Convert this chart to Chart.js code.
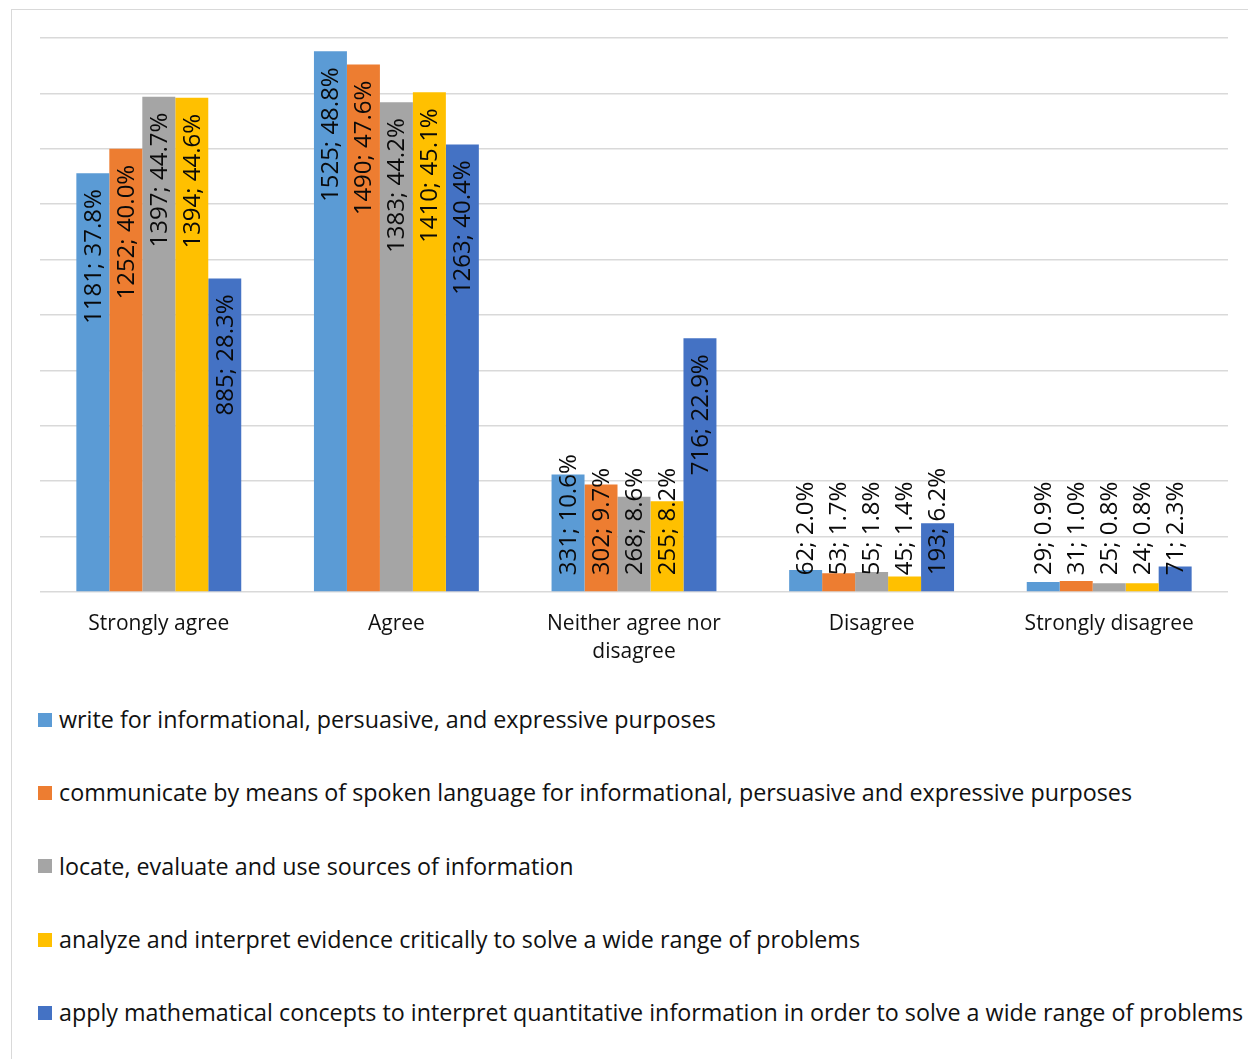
<!DOCTYPE html>
<html>
<head>
<meta charset="utf-8">
<script src="https://cdn.jsdelivr.net/npm/chart.js@4"></script>
<style>
  html, body { margin: 0; padding: 0; background: #fff; width: 1248px; height: 1059px; overflow: hidden; }
  #frame { position: absolute; left: 11px; top: 9px; width: 1400px; height: 1200px; border: 1px solid #d9d9d9; box-sizing: border-box; }
  #wrap { position: absolute; left: 0; top: 0; width: 1248px; height: 700px; }
  #legend { position: absolute; left: 38px; top: 700px; font-family: "Open Sans", sans-serif; font-size: 23.3px; color: #111; }
  .li { position: absolute; left: 0; white-space: nowrap; height: 28px; line-height: 28px; }
  .sw { display: inline-block; width: 14px; height: 14px; vertical-align: middle; margin-right: 7px; position: relative; top: -2px; }
</style>
</head>
<body>
<div id="frame"></div>
<div id="wrap"><canvas id="c"></canvas></div>
<div id="legend"></div>
<script>
const categories = ['Strongly agree', 'Agree', ['Neither agree nor', 'disagree'], 'Disagree', 'Strongly disagree'];
const seriesNames = [
  'write for informational, persuasive, and expressive purposes',
  'communicate by means of spoken language for informational, persuasive and expressive purposes',
  'locate, evaluate and use sources of information',
  'analyze and interpret evidence critically to solve a wide range of problems',
  'apply mathematical concepts to interpret quantitative information in order to solve a wide range of problems'
];
const writePct = [37.8, 48.8, 10.6, 2.0, 0.9];
const writeN = [1181, 1525, 331, 62, 29];
const speakPct = [40.0, 47.6, 9.7, 1.7, 1.0];
const speakN = [1252, 1490, 302, 53, 31];
const locatePct = [44.7, 44.2, 8.6, 1.8, 0.8];
const locateN = [1397, 1383, 268, 55, 25];
const analyzePct = [44.6, 45.1, 8.2, 1.4, 0.8];
const analyzeN = [1394, 1410, 255, 45, 24];
const mathPct = [28.3, 40.4, 22.9, 6.2, 2.3];
const mathN = [885, 1263, 716, 193, 71];
const colors = ['#5B9BD5', '#ED7D31', '#A5A5A5', '#FFC000', '#4472C4'];

const pcts = [writePct, speakPct, locatePct, analyzePct, mathPct];
const counts = [writeN, speakN, locateN, analyzeN, mathN];

const datasets = seriesNames.map((name, i) => ({
  label: name,
  data: pcts[i],
  counts: counts[i],
  backgroundColor: colors[i],
  borderWidth: 0,
  categoryPercentage: 0.694,
  barPercentage: 1.0
}));

const labelPlugin = {
  id: 'barLabels',
  afterDatasetsDraw(chart) {
    const ctx = chart.ctx;
    const pad = 16;
    ctx.save();
    ctx.font = '24px "Open Sans", sans-serif';
    ctx.fillStyle = '#0a0a0a';
    ctx.textAlign = 'left';
    ctx.textBaseline = 'middle';
    chart.data.datasets.forEach((ds, di) => {
      const meta = chart.getDatasetMeta(di);
      meta.data.forEach((bar, i) => {
        const txt = ds.counts[i] + '; ' + ds.data[i].toFixed(1) + '%';
        const w = ctx.measureText(txt).width;
        let yb = bar.y + pad + w;
        if (yb > bar.base - pad) yb = bar.base - pad;
        ctx.save();
        ctx.translate(bar.x + 1, yb);
        ctx.rotate(-Math.PI / 2);
        ctx.fillText(txt, 0, 0);
        ctx.restore();
      });
    });
    ctx.restore();
  }
};

const chart = new Chart(document.getElementById('c'), {
  type: 'bar',
  data: { labels: categories, datasets },
  options: {
    responsive: true,
    maintainAspectRatio: false,
    animation: false,
    layout: { padding: { left: 40, right: 20, top: 38, bottom: 16 } },
    plugins: { legend: { display: false }, tooltip: { enabled: false } },
    scales: {
      x: {
        grid: { display: false, drawTicks: false },
        border: { display: false },
        ticks: { font: { family: '"Open Sans", sans-serif', size: 21, lineHeight: 1.38 }, color: '#111', padding: 17, maxRotation: 0, autoSkip: false }
      },
      y: {
        min: 0, max: 50,
        ticks: { stepSize: 5, display: false },
        grid: { color: '#d9d9d9', lineWidth: 1.5, drawTicks: false },
        border: { display: false }
      }
    }
  },
  plugins: [labelPlugin]
});

// legend built from chart datasets
const leg = document.getElementById('legend');
chart.data.datasets.forEach((ds, i) => {
  const d = document.createElement('div');
  d.className = 'li';
  d.style.top = (5 + i * 73.25) + 'px';
  const s = document.createElement('span');
  s.className = 'sw';
  s.style.background = ds.backgroundColor;
  d.appendChild(s);
  d.appendChild(document.createTextNode(ds.label));
  leg.appendChild(d);
});
</script>
</body>
</html>
